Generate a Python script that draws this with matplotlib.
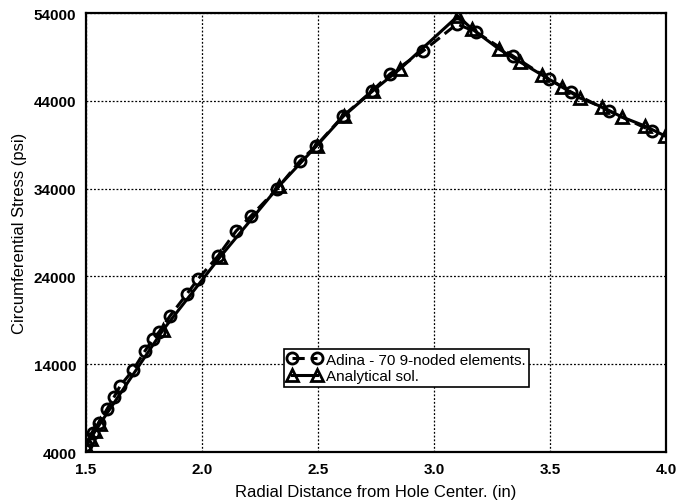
import matplotlib
matplotlib.use('Agg')
import matplotlib.pyplot as plt

plt.rcParams['font.family'] = ['Liberation Sans', 'DejaVu Sans']

# Adina - 70 9-noded elements (circles)
adina_r = [1.500, 1.513, 1.530, 1.556, 1.591, 1.621, 1.647, 1.703, 1.754, 1.789,
           1.815, 1.862, 1.935, 1.983, 2.069, 2.147, 2.211, 2.323, 2.422, 2.491,
           2.608, 2.733, 2.810, 2.953, 3.099, 3.181, 3.341, 3.496, 3.591, 3.754, 3.940]
adina_s = [4800, 5480, 6160, 7300, 8900, 10260, 11520, 13340, 15500, 16870,
           17670, 19490, 22000, 23700, 26320, 29170, 30880, 33960, 37140, 38850,
           42270, 45120, 47050, 49670, 52750, 51840, 49100, 46480, 45000, 42840, 40560]

# analytical solution (triangles)
anal_r = [1.500, 1.520, 1.540, 1.560, 1.832, 2.078, 2.332, 2.495, 2.610, 2.735,
          2.853, 3.103, 3.164, 3.280, 3.371, 3.466, 3.552, 3.629, 3.724, 3.810,
          3.909, 3.996]
anal_s = [4700, 5500, 6400, 7200, 17900, 26210, 34300, 38900, 42250, 45100,
          47620, 53660, 52180, 49900, 48420, 46940, 45570, 44320, 43300, 42160,
          41130, 40000]

xticks = [1.5, 2.0, 2.5, 3.0, 3.5, 4.0]
yticks = [4000, 14000, 24000, 34000, 44000, 54000]

fig = plt.figure(figsize=(6.76, 5.02), dpi=100)
ax = fig.add_axes([0.1272, 0.0976, 0.858, 0.8745])

ax.plot(anal_r, anal_s, color='black', lw=2.2, ls='-',
        marker='^', ms=8, mfc='none', mec='black', mew=2.0,
        label='Analytical sol.', zorder=2)
ax.plot(adina_r, adina_s, color='black', lw=2.2, ls=(0, (4, 2)),
        marker='o', ms=8, mfc='none', mec='black', mew=2.0,
        label='Adina - 70 9-noded elements.', zorder=3)

ax.set_xlim(1.5, 4.0)
ax.set_ylim(4000, 54000)
ax.set_xticks(xticks)
ax.set_xticklabels([f'{t:.1f}' for t in xticks])
ax.set_yticks(yticks)
ax.set_yticklabels([str(t) for t in yticks])
ax.tick_params(length=0, labelsize=11, pad=7)
for lab in ax.get_xticklabels() + ax.get_yticklabels():
    lab.set_fontweight('bold')

ax.grid(True, color='black', ls=(0, (1.5, 1.5)), lw=0.9)
for sp in ax.spines.values():
    sp.set_linewidth(1.6)

ax.set_xlabel('Radial Distance from Hole Center. (in)', fontsize=12, labelpad=6)
ax.set_ylabel('Circumferential Stress (psi)', fontsize=12, labelpad=5)

handles, labels = ax.get_legend_handles_labels()
leg = ax.legend(handles[::-1], labels[::-1], loc='upper left',
                bbox_to_anchor=(0.341, 0.235), borderaxespad=0,
                fontsize=11, numpoints=2, handlelength=2.2, handletextpad=0.3,
                borderpad=0.25, labelspacing=0.15, fancybox=False, framealpha=1)
leg.get_frame().set_edgecolor('black')
leg.get_frame().set_linewidth(1.2)

fig.savefig('out.png', dpi=100)
